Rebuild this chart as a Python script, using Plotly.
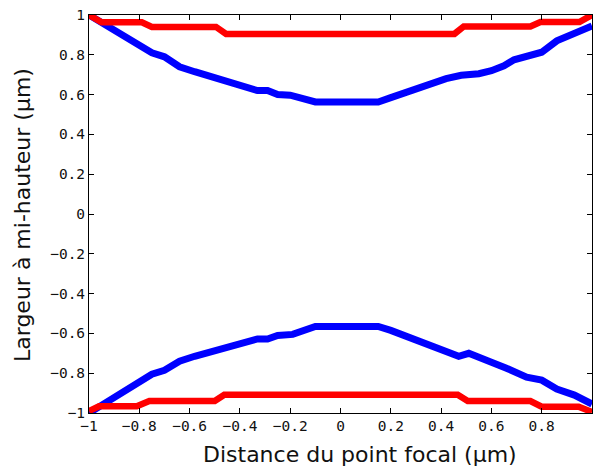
import plotly.graph_objects as go

# Blue envelope (upper and lower)
blue_up_x = [-1.0, -0.9, -0.8, -0.75, -0.7, -0.64, -0.58, -0.51, -0.44, -0.38, -0.33, -0.29, -0.25, -0.2, -0.1, 0.0,
             0.15, 0.2, 0.28, 0.35, 0.42, 0.48, 0.55, 0.6, 0.65, 0.69, 0.75, 0.8, 0.86, 0.93, 1.0]
blue_up_y = [1.0, 0.92, 0.84, 0.81, 0.79, 0.74, 0.715, 0.69, 0.665, 0.64, 0.62, 0.62, 0.60, 0.597, 0.563, 0.563,
             0.563, 0.585, 0.62, 0.65, 0.68, 0.697, 0.705, 0.72, 0.745, 0.775, 0.795, 0.813, 0.87, 0.905, 0.945]

blue_lo_x = [-1.0, -0.9, -0.8, -0.75, -0.7, -0.64, -0.58, -0.51, -0.44, -0.38, -0.33, -0.29, -0.25, -0.19, -0.1, 0.0,
             0.15, 0.2, 0.28, 0.35, 0.42, 0.47, 0.51, 0.56, 0.6, 0.66, 0.74, 0.8, 0.86, 0.93, 1.0]
blue_lo_y = [-1.0, -0.92, -0.84, -0.805, -0.785, -0.74, -0.715, -0.69, -0.665, -0.645, -0.628, -0.628, -0.61, -0.605,
             -0.565, -0.565, -0.565, -0.585, -0.623, -0.655, -0.69, -0.715, -0.70, -0.72, -0.745, -0.775, -0.82,
             -0.835, -0.88, -0.91, -0.955]

# Red envelope (upper and lower)
red_up_x = [-1.0, -0.95, -0.79, -0.75, -0.495, -0.455, 0.453, 0.49, 0.755, 0.795, 0.95, 1.0]
red_up_y = [1.0, 0.963, 0.963, 0.94, 0.94, 0.905, 0.905, 0.942, 0.942, 0.965, 0.965, 1.0]

red_lo_x = [-1.0, -0.96, -0.81, -0.76, -0.50, -0.462, 0.466, 0.506, 0.755, 0.80, 0.947, 1.0]
red_lo_y = [-0.99, -0.966, -0.966, -0.94, -0.94, -0.908, -0.908, -0.94, -0.94, -0.968, -0.968, -0.995]

tick_vals = [-1, -0.8, -0.6, -0.4, -0.2, 0, 0.2, 0.4, 0.6, 0.8, 1]

fig = go.Figure()
for xs, ys in [(blue_up_x, blue_up_y), (blue_lo_x, blue_lo_y)]:
    fig.add_trace(go.Scatter(x=xs, y=ys, mode="lines", line=dict(color="#0000ff", width=7), showlegend=False))
for xs, ys in [(red_up_x, red_up_y), (red_lo_x, red_lo_y)]:
    fig.add_trace(go.Scatter(x=xs, y=ys, mode="lines", line=dict(color="#ff0000", width=6.5), showlegend=False))

axis_common = dict(
    range=[-1, 1], tickvals=tick_vals, showgrid=False, zeroline=False,
    showline=True, linecolor="black", linewidth=1, mirror="ticks",
    ticks="inside", ticklen=5, tickcolor="black", tickwidth=1,
    tickfont=dict(family="DejaVu Sans Mono", size=14.5, color="#111111"),
)
fig.update_xaxes(**axis_common)
fig.update_yaxes(**axis_common)

fig.update_layout(
    width=593, height=470,
    margin=dict(l=89, r=1, t=15, b=57),
    plot_bgcolor="white", paper_bgcolor="white",
    annotations=[
        dict(text="Distance du point focal (µm)", xref="paper", yref="paper", x=(360 - 89) / 503,
             y=(413 - 455) / 398, xanchor="center", yanchor="middle", showarrow=False,
             font=dict(family="DejaVu Sans", size=22, color="#111111")),
        dict(text="Largeur à mi-hauteur (µm)", xref="paper", yref="paper", x=(23 - 89) / 503,
             y=(413 - 215) / 398, xanchor="center", yanchor="middle", textangle=-90, showarrow=False,
             font=dict(family="DejaVu Sans", size=22, color="#111111")),
    ],
)

fig.write_html("out.html")
